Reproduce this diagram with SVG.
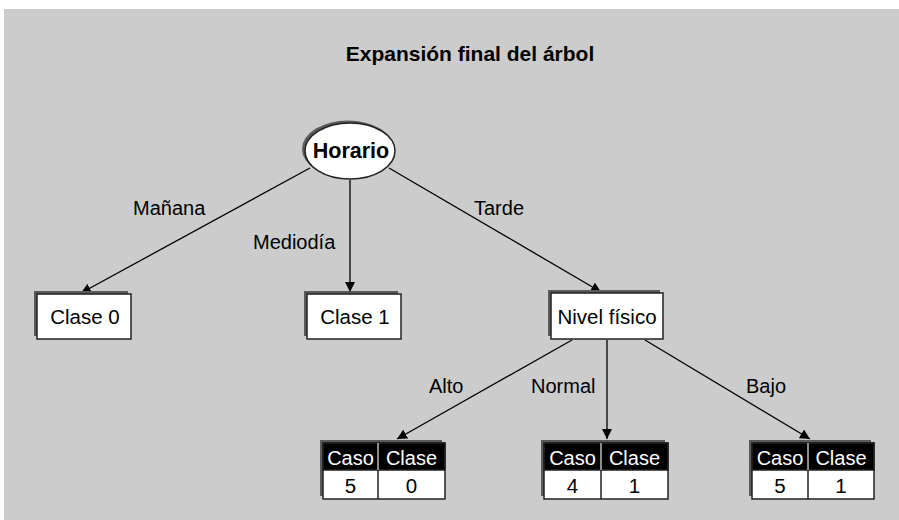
<svg xmlns="http://www.w3.org/2000/svg" width="899" height="520" viewBox="0 0 899 520">
<defs>
<style>
text{font-family:"Liberation Sans",Arial,sans-serif;fill:#000}
.t{font-size:20.5px}
.lbl{font-size:20px}
.box{fill:#fff;stroke:#222;stroke-width:1.5}
.sh{fill:#5a5a5a}
.hd{fill:#000;stroke:#222;stroke-width:1.5}
.ht{font-size:20px;fill:#fff}
.edge{stroke:#000;stroke-width:1.3;fill:none;marker-end:url(#ar)}
</style>
<marker id="ar" viewBox="0 0 10 10" refX="10" refY="5" markerWidth="10" markerHeight="10" markerUnits="userSpaceOnUse" orient="auto">
<path d="M0,0 L10,5 L0,10 z" fill="#000"/>
</marker>
</defs>
<rect x="0" y="0" width="899" height="520" fill="#fff"/>
<rect x="4" y="9" width="895" height="511" fill="#cccccc"/>
<text x="470" y="61" text-anchor="middle" style="font-size:21px;font-weight:bold">Expansión final del árbol</text>

<g id="connectors">
<line class="edge" x1="310" y1="168" x2="81" y2="293"/>
<line class="edge" x1="350" y1="180" x2="350" y2="292"/>
<line class="edge" x1="389" y1="168" x2="601" y2="292"/>
<line class="edge" x1="572" y1="340" x2="397" y2="439"/>
<line class="edge" x1="607" y1="340" x2="607" y2="439"/>
<line class="edge" x1="645" y1="340" x2="810" y2="439"/>
<text class="lbl" x="133" y="215">Mañana</text>
<text class="lbl" x="253" y="249">Mediodía</text>
<text class="lbl" x="474" y="215">Tarde</text>
<text class="lbl" x="429" y="393">Alto</text>
<text class="lbl" x="531" y="393">Normal</text>
<text class="lbl" x="746" y="393">Bajo</text>
</g>

<g id="horario">
<ellipse class="sh" cx="348" cy="149" rx="46" ry="28.5"/>
<ellipse cx="350" cy="151" rx="45" ry="28" fill="#fff" stroke="#222" stroke-width="1.5"/>
<text x="351" y="158" text-anchor="middle" style="font-size:21.5px;font-weight:bold">Horario</text>
</g>

<g id="clase0">
<rect class="sh" x="34" y="291" width="94" height="45"/>
<rect class="box" x="37" y="294" width="94" height="45"/>
<text class="t" x="85" y="324" text-anchor="middle">Clase 0</text>
</g>

<g id="clase1">
<rect class="sh" x="304" y="291" width="94" height="45"/>
<rect class="box" x="307" y="294" width="94" height="45"/>
<text class="t" x="355" y="324" text-anchor="middle">Clase 1</text>
</g>

<g id="nivel">
<rect class="sh" x="548" y="290" width="112" height="46"/>
<rect class="box" x="551" y="293" width="112" height="46"/>
<text class="t" x="607" y="324" text-anchor="middle">Nivel físico</text>
</g>

<g id="tabla-alto">
<rect class="sh" x="320" y="440" width="122" height="56"/>
<rect class="box" x="323" y="443" width="122" height="56"/>
<rect class="hd" x="323" y="443" width="122" height="27"/>
<line x1="378" y1="443" x2="378" y2="499" stroke="#222" stroke-width="1.5"/>
<line x1="378" y1="443" x2="378" y2="470" stroke="#fff" stroke-width="1"/>
<text class="ht" x="350.5" y="465" text-anchor="middle">Caso</text>
<text class="ht" x="411.5" y="465" text-anchor="middle">Clase</text>
<text class="t" x="350.5" y="493" text-anchor="middle">5</text>
<text class="t" x="411.5" y="493" text-anchor="middle">0</text>
</g>

<g id="tabla-normal">
<rect class="sh" x="541" y="440" width="124" height="56"/>
<rect class="box" x="544" y="443" width="124" height="56"/>
<rect class="hd" x="544" y="443" width="124" height="27"/>
<line x1="601" y1="443" x2="601" y2="499" stroke="#222" stroke-width="1.5"/>
<line x1="601" y1="443" x2="601" y2="470" stroke="#fff" stroke-width="1"/>
<text class="ht" x="572.5" y="465" text-anchor="middle">Caso</text>
<text class="ht" x="634.5" y="465" text-anchor="middle">Clase</text>
<text class="t" x="572.5" y="493" text-anchor="middle">4</text>
<text class="t" x="634.5" y="493" text-anchor="middle">1</text>
</g>

<g id="tabla-bajo">
<rect class="sh" x="749" y="440" width="122" height="56"/>
<rect class="box" x="752" y="443" width="122" height="56"/>
<rect class="hd" x="752" y="443" width="122" height="27"/>
<line x1="808" y1="443" x2="808" y2="499" stroke="#222" stroke-width="1.5"/>
<line x1="808" y1="443" x2="808" y2="470" stroke="#fff" stroke-width="1"/>
<text class="ht" x="780" y="465" text-anchor="middle">Caso</text>
<text class="ht" x="841" y="465" text-anchor="middle">Clase</text>
<text class="t" x="780" y="493" text-anchor="middle">5</text>
<text class="t" x="841" y="493" text-anchor="middle">1</text>
</g>
</svg>
